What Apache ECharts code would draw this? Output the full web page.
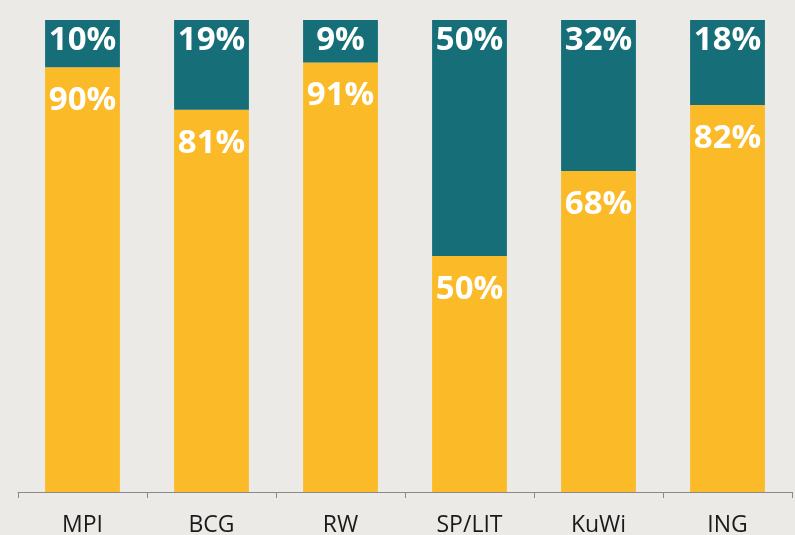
<!DOCTYPE html>
<html>
<head>
<meta charset="utf-8">
<script src="https://cdn.jsdelivr.net/npm/echarts@6/dist/echarts.min.js"></script>
<style>
  html, body { margin: 0; padding: 0; background: #ebeae6; }
  #chart { width: 795px; height: 535px; }
</style>
</head>
<body>
<div id="chart"></div>
<script>
  var categories = ['MPI', 'BCG', 'RW', 'SP/LIT', 'KuWi', 'ING'];
  var bottomValues = [90, 81, 91, 50, 68, 82];
  var topValues = [10, 19, 9, 50, 32, 18];

  function valueLabel(dist) {
    return {
      show: true,
      position: 'insideTop',
      distance: dist,
      color: '#ffffff',
      fontFamily: 'Open Sans',
      fontWeight: 'bold',
      fontSize: 33,
      formatter: '{c}%'
    };
  }

  var chart = echarts.init(document.getElementById('chart'));
  chart.setOption({
    backgroundColor: '#ebeae6',
    animation: false,
    grid: { left: 18, right: 3, top: 20, bottom: 43, containLabel: false, outerBoundsMode: 'none' },
    xAxis: {
      type: 'category',
      data: categories,
      axisLine: { lineStyle: { color: '#8a8a8a', width: 1 } },
      axisTick: { show: true, length: 6, lineStyle: { color: '#8a8a8a' } },
      axisLabel: {
        color: '#1a1a1a',
        fontFamily: 'Open Sans',
        fontSize: 23,
        margin: 22
      }
    },
    yAxis: {
      type: 'value',
      min: 0,
      max: 100,
      show: false,
      splitLine: { show: false }
    },
    series: [
      {
        name: 'bottom',
        type: 'bar',
        stack: 'total',
        barWidth: '58%',
        itemStyle: { color: '#fbbb28' },
        label: valueLabel(17),
        data: bottomValues
      },
      {
        name: 'top',
        type: 'bar',
        stack: 'total',
        barWidth: '58%',
        itemStyle: { color: '#166e78' },
        label: valueLabel(4),
        data: topValues
      }
    ]
  });
</script>
</body>
</html>
